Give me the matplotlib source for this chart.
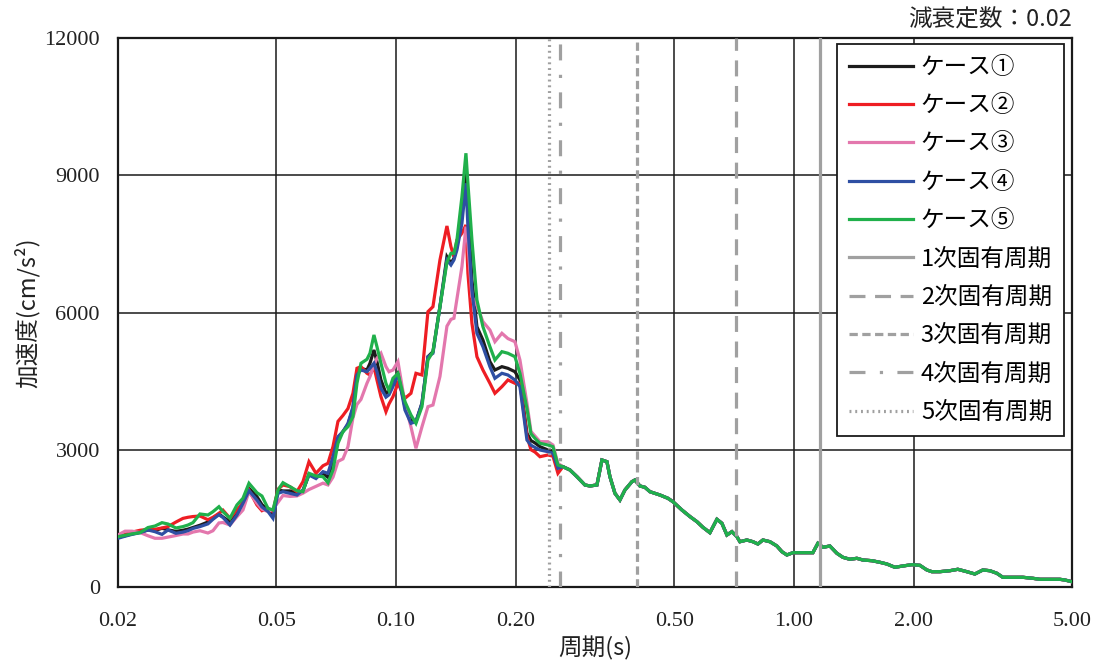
import matplotlib
matplotlib.use("Agg")
import matplotlib.pyplot as plt
from matplotlib.ticker import FixedLocator, NullLocator

plt.rcParams['font.family'] = ['Noto Sans CJK JP', 'DejaVu Sans']

# ---- data ----
period_front = [0.0200, 0.02083, 0.02169, 0.02272, 0.02379, 0.02477, 0.02580, 0.02671, 0.02797, 0.02913,
                0.02999, 0.03086, 0.03214, 0.03366, 0.03465, 0.03587, 0.03671, 0.03823, 0.03981, 0.04122,
                0.04268, 0.04470, 0.04601, 0.04764, 0.04904, 0.05048, 0.05196, 0.05411, 0.05634, 0.05833,
                0.06040, 0.06290, 0.06550, 0.06742, 0.06940, 0.07144, 0.07353, 0.07569, 0.07791, 0.07974,
                0.08161, 0.08449, 0.08597, 0.08798, 0.08952, 0.09162, 0.09431, 0.09596, 0.09821, 0.10109,
                0.10527, 0.10899, 0.11219, 0.11615, 0.12025, 0.12379, 0.12890, 0.13422, 0.13737, 0.13977,
                0.14222, 0.14639, 0.14982, 0.15156, 0.15511, 0.15966, 0.16530, 0.17213, 0.17718, 0.18450,
                0.19103, 0.19896, 0.2048, 0.21328, 0.21828, 0.22339, 0.22994, 0.24082, 0.24790, 0.25517]

case1_front = [1087, 1120, 1160, 1196, 1246, 1235, 1283, 1250, 1215, 1240,
               1265, 1300, 1350, 1420, 1502, 1600, 1530, 1428, 1624, 1843,
               2157, 1974, 1800, 1690, 1574, 2120, 2100, 2100, 2050, 2100,
               2460, 2400, 2480, 2400, 2750, 3250, 3400, 3550, 3900, 4706,
               4780, 4743, 4890, 5181, 4925, 4525, 4234, 4280, 4453, 4671,
               3941, 3651, 3614, 4016, 5034, 5144, 6127, 7220, 7076, 7185,
               7439, 8313, 9044, 8313, 6711, 5690, 5399, 4925, 4743, 4816,
               4780, 4706, 4525, 3360, 3200, 3150, 3067, 2995, 2958, 2620]

case2_front = [1115, 1150, 1200, 1240, 1261, 1261, 1290, 1320, 1420, 1500,
               1524, 1540, 1552, 1470, 1524, 1610, 1680, 1502, 1683, 1843,
               2120, 1793, 1668, 1720, 1646, 2136, 2230, 2193, 2083, 2302,
               2739, 2485, 2650, 2704, 3067, 3620, 3750, 3900, 4234, 4781,
               4816, 4671, 4634, 4816, 4525, 4160, 3832, 4000, 4160, 4453,
               4125, 4234, 4671, 4634, 6018, 6127, 7148, 7891, 7439, 7220,
               7585, 7732, 7913, 6857, 5764, 5034, 4743, 4453, 4234, 4379,
               4525, 4453, 4453, 3300, 3000, 2950, 2848, 2886, 2860, 2485]

case3_front = [1137, 1220, 1220, 1190, 1120, 1065, 1065, 1090, 1125, 1159,
               1159, 1200, 1230, 1180, 1230, 1400, 1410, 1355, 1537, 1683,
               2083, 1830, 1700, 1650, 1700, 1850, 2000, 1980, 1990, 2050,
               2130, 2200, 2270, 2230, 2400, 2745, 2800, 3067, 3700, 3990,
               4100, 4453, 4600, 4850, 5000, 5109, 4816, 4706, 4743, 4925,
               4016, 3500, 3032, 3500, 3941, 3978, 4600, 5700, 5850, 5874,
               6300, 7000, 7876, 7500, 6346, 6150, 5800, 5618, 5362, 5546,
               5430, 5362, 4962, 4016, 3400, 3300, 3176, 3176, 3104, 2704]

case4_front = [1065, 1110, 1150, 1187, 1246, 1209, 1150, 1246, 1174, 1200,
               1231, 1280, 1320, 1380, 1480, 1580, 1520, 1355, 1574, 1830,
               2105, 1902, 1750, 1650, 1502, 2048, 2083, 2048, 2011, 2120,
               2448, 2370, 2521, 2485, 2848, 3286, 3395, 3578, 3941, 4634,
               4743, 4706, 4780, 4890, 4706, 4343, 4150, 4200, 4379, 4671,
               3869, 3578, 3614, 4016, 5034, 5109, 6127, 7148, 7039, 7148,
               7367, 7950, 8825, 7876, 6492, 5546, 5253, 4816, 4562, 4671,
               4634, 4525, 4379, 3213, 3100, 3050, 2995, 2958, 2922, 2595]

case5_front = [1100, 1130, 1160, 1187, 1300, 1333, 1406, 1377, 1290, 1320,
               1355, 1406, 1596, 1574, 1646, 1755, 1646, 1502, 1793, 1939,
               2267, 2061, 1989, 1720, 1683, 2120, 2280, 2193, 2105, 2083,
               2485, 2426, 2411, 2280, 2558, 3141, 3395, 3504, 3723, 4453,
               4890, 4977, 5109, 5509, 5253, 4890, 4450, 4300, 4562, 4671,
               4051, 3760, 3578, 3941, 4962, 5144, 6127, 7100, 7294, 7294,
               7585, 8532, 9481, 8825, 7585, 6273, 5690, 5253, 4962, 5144,
               5109, 5034, 4671, 3900, 3350, 3250, 3141, 3104, 3067, 2667]

# beyond ~0.26 s the five cases coincide
period_tail = [0.26266, 0.27354, 0.28485, 0.29834, 0.30710, 0.31978, 0.32918, 0.33884, 0.34478, 0.35490,
               0.36532, 0.37604, 0.39160, 0.39846, 0.41014, 0.42218, 0.43456, 0.46044, 0.48224, 0.49640,
               0.52298, 0.54776, 0.57038, 0.59054, 0.61496, 0.64036, 0.65916, 0.67852, 0.69842, 0.71892,
               0.73152, 0.76176, 0.78868, 0.81182, 0.83566, 0.87020, 0.90616, 0.93276, 0.96012, 0.99404,
               1.0533, 1.1160, 1.1488, 1.1825, 1.2314, 1.2823, 1.3277, 1.3825, 1.4397, 1.4905,
               1.5702, 1.6446, 1.7125, 1.7936, 1.8786, 1.9793, 2.0730, 2.1586, 2.2220, 2.3272,
               2.4654, 2.5822, 2.7204, 2.8494, 2.9844, 3.1078, 3.2362, 3.3506, 3.5522, 3.7636,
               3.9878, 4.1526, 4.3996, 4.6618, 4.7976, 5.0]
accel_tail = [2630, 2558, 2411, 2230, 2208, 2230, 2776, 2739, 2411, 2048,
              1902, 2120, 2302, 2339, 2208, 2179, 2083, 2011, 1939, 1865,
              1683, 1540, 1428, 1305, 1187, 1480, 1392, 1137, 1209, 1100,
              990, 1027, 990, 940, 1027, 990, 896, 772, 700, 750,
              750, 750, 955, 868, 896, 737, 649, 606, 627, 590,
              575, 540, 503, 431, 459, 488, 474, 372, 335, 335,
              356, 387, 335, 284, 372, 356, 300, 212, 212, 212,
              190, 168, 168, 168, 153, 116]

case_labels = ["ケース①", "ケース②", "ケース③", "ケース④", "ケース⑤"]
case_colors = ["#1c1c1c", "#ee1d23", "#e377ad", "#2e4fa3", "#20b04b"]

mode_periods = [1.162, 0.715, 0.403, 0.258, 0.242]
mode_labels = ["1次固有周期", "2次固有周期", "3次固有周期", "4次固有周期", "5次固有周期"]

x_ticks = [0.02, 0.05, 0.10, 0.20, 0.50, 1.00, 2.00, 5.00]
x_ticklabels = ["0.02", "0.05", "0.10", "0.20", "0.50", "1.00", "2.00", "5.00"]
y_ticks = [0, 3000, 6000, 9000, 12000]

# ---- figure ----
fig = plt.figure(figsize=(11.02, 6.66), dpi=100)
ax = fig.add_axes([118 / 1102, 1 - 587 / 666, (1072 - 118) / 1102, (587 - 38) / 666])

fronts = [case1_front, case2_front, case3_front, case4_front, case5_front]
periods = period_front + period_tail
for front, lab, col in zip(fronts, case_labels, case_colors):
    ax.plot(periods, front + accel_tail, color=col, lw=2.3, label=lab, zorder=3,
            solid_joinstyle='miter')

gray = "#a0a0a0"
mode_styles = ['-', (0, (5.0, 3.0)), (0, (2.6, 1.4)), (0, (5.0, 4.5, 1.0, 4.5)), (0, (0.6, 1.2))]
for p, lab, ls in zip(mode_periods, mode_labels, mode_styles):
    ax.axvline(p, color=gray, lw=2.3, linestyle=ls, label=lab, zorder=4)

ax.set_xscale('log')
ax.set_xlim(0.02, 5.0)
ax.set_ylim(0, 12000)
ax.xaxis.set_major_locator(FixedLocator(x_ticks))
ax.xaxis.set_minor_locator(NullLocator())
ax.set_xticks(x_ticks)
ax.set_xticklabels(x_ticklabels)
ax.set_yticks(y_ticks)
ax.set_yticklabels([str(v) for v in y_ticks])

for lbl in ax.get_xticklabels() + ax.get_yticklabels():
    lbl.set_fontfamily(['Liberation Serif', 'DejaVu Serif'])
    lbl.set_fontsize(16)
    lbl.set_color('#222222')
ax.tick_params(axis='x', length=0, pad=18)
ax.tick_params(axis='y', length=0, pad=13)

ax.grid(True, which='major', color='#1a1a1a', lw=1.1, zorder=1)
ax.set_axisbelow(True)
for sp in ax.spines.values():
    sp.set_color('#1a1a1a')
    sp.set_linewidth(1.6)

ax.set_xlabel("周期(s)", fontsize=17, labelpad=4, color='#222222')
ax.set_ylabel("加速度(cm/s²)", fontsize=17, labelpad=3, color='#222222')

ax.text(1.0, 1.012, "減衰定数：0.02", transform=ax.transAxes, ha='right', va='bottom',
        fontsize=17, color='#222222')

leg = ax.legend(loc='upper right', bbox_to_anchor=(1064 / 1102, 1 - 44 / 666),
                bbox_transform=fig.transFigure, fontsize=17, frameon=True, fancybox=False,
                edgecolor='#1a1a1a', framealpha=1.0, borderpad=0.5, labelspacing=0.65,
                handlelength=2.7, handletextpad=0.35, borderaxespad=0)
leg.get_frame().set_linewidth(1.3)
leg.set_zorder(10)

fig.savefig("out.png", dpi=100)
